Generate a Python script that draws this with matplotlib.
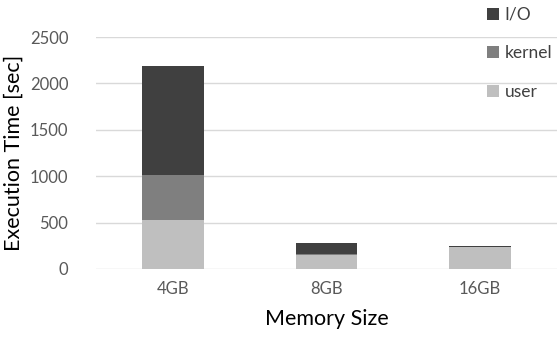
import matplotlib.pyplot as plt
import numpy as np

plt.rcParams['font.family'] = ['Lato', 'DejaVu Sans']

sizes = ['4GB', '8GB', '16GB']
user = [528, 154, 232]
kernel = [485, 6, 3]
io = [1177, 120, 16]

fig = plt.figure(figsize=(5.58, 3.40), dpi=100)
ax = fig.add_axes([0.172, 0.209, 0.826, 0.682])

x = np.arange(len(sizes))
w = 0.4
b1 = ax.bar(x, user, w, color='#bfbfbf', label='user', zorder=3)
b2 = ax.bar(x, kernel, w, bottom=user, color='#7f7f7f', label='kernel', zorder=3)
bottom_io = np.array(user) + np.array(kernel)
b3 = ax.bar(x, io, w, bottom=bottom_io, color='#404040', label='I/O', zorder=3)

ax.set_xlim(-0.5, 2.5)
ax.set_ylim(0, 2500)
ax.set_yticks(range(0, 2501, 500))
ax.set_xticks(x)
ax.set_xticklabels(sizes)
ax.grid(axis='y', color='#d9d9d9', linewidth=1, zorder=0)
for s in ax.spines.values():
    s.set_visible(False)
ax.tick_params(length=0, labelsize=12, colors='#595959', pad=9)
ax.tick_params(axis='y', pad=20)
ax.set_xlabel('Memory Size', fontsize=15.5, labelpad=8)
ax.set_ylabel('Execution Time [sec]', fontsize=15.5, labelpad=4)

ax.legend([b3, b2, b1], ['I/O', 'kernel', 'user'], loc='upper left',
          bbox_to_anchor=(0.873, 0.98), bbox_transform=fig.transFigure,
          frameon=False, fontsize=12.5, labelspacing=1.3,
          borderpad=0, borderaxespad=0,
          handlelength=0.7, handleheight=0.7, handletextpad=0.3,
          labelcolor='#404040')

fig.savefig('out.png', dpi=100)
